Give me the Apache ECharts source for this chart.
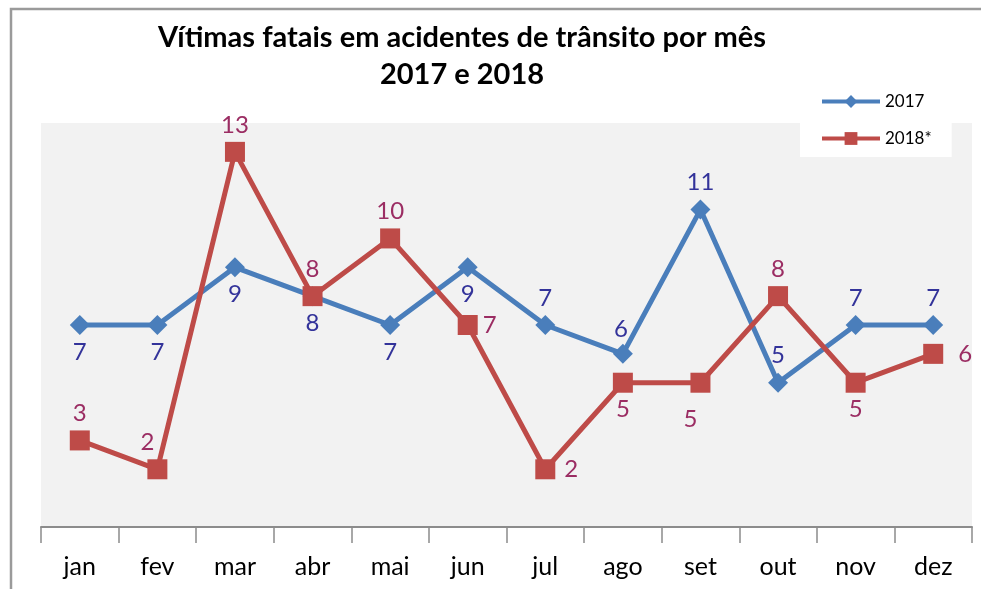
<!DOCTYPE html>
<html lang="pt">
<head>
    <meta charset="UTF-8">
    <title>Vítimas fatais</title>
    <script src="https://cdn.jsdelivr.net/npm/echarts@6/dist/echarts.min.js"></script>
    <style>
        html, body { margin: 0; padding: 0; background: #fff; }
    </style>
</head>
<body>
    <div id="myChart" style="width: 981px;height: 589px;"></div>
    <script>
        // dados
        var meses = ['jan', 'fev', 'mar', 'abr', 'mai', 'jun', 'jul', 'ago', 'set', 'out', 'nov', 'dez'];
        var v2017 = [7, 7, 9, 8, 7, 9, 7, 6, 11, 5, 7, 7];
        var v2018 = [3, 2, 13, 8, 10, 7, 2, 5, 5, 8, 5, 6];

        // onde fica cada rótulo
        var pos2017 = ['bottom', 'bottom', 'bottom', 'bottom', 'bottom', 'bottom', 'top', 'top', 'top', 'top', 'top', 'top'];
        var pos2018 = ['top', 'top', 'top', 'top', 'top', 'right', 'right', 'bottom', 'bottom', 'top', 'bottom', 'right'];
        var desloc2017 = {7: [-2, 2]};
        var desloc2018 = {1: [-10, 0], 6: [4, 0], 8: [-10, 10], 11: [10, 0]};

        function pontos(vals, pos, desloc) {
            return vals.map(function (v, i) {
                var lab = {position: pos[i]};
                if (desloc[i]) lab.offset = desloc[i];
                return {value: v, label: lab};
            });
        }

        var myChart = echarts.init(document.getElementById('myChart'));
        var option = {
            animation: false,
            textStyle: {fontFamily: 'Lato'},
            title: {
                text: 'Vítimas fatais em acidentes de trânsito por mês\n2017 e 2018',
                left: 457,
                top: 14,
                textAlign: 'center',
                textStyle: {
                    fontFamily: 'Lato',
                    fontSize: 29,
                    fontWeight: 'bold',
                    color: '#000',
                    lineHeight: 37
                }
            },
            legend: {
                orient: 'vertical',
                left: 800,
                top: 87,
                padding: [6, 20, 10, 20],
                backgroundColor: '#fff',
                itemWidth: 58,
                itemHeight: 16,
                itemGap: 20,
                lineStyle: {width: 4},
                textStyle: {fontFamily: 'Lato', fontSize: 17, color: '#000'},
                data: ['2017', '2018*']
            },
            grid: {
                left: 41,
                right: 9,
                top: 123,
                bottom: 62,
                show: true,
                backgroundColor: '#F2F2F2',
                borderWidth: 0
            },
            xAxis: {
                type: 'category',
                data: meses,
                boundaryGap: true,
                axisLine: {lineStyle: {color: '#8c8c8c', width: 2}},
                axisTick: {show: true, length: 16, lineStyle: {color: '#8c8c8c', width: 1.5}},
                axisLabel: {fontFamily: 'Lato', fontSize: 25, color: '#000', margin: 27}
            },
            yAxis: {
                type: 'value',
                min: 0,
                max: 14,
                show: false,
                splitLine: {show: false}
            },
            graphic: [{
                type: 'polyline',
                shape: {points: [[11, 589], [11, 9], [981, 9]]},
                style: {stroke: '#9a9a9a', lineWidth: 2.5, fill: null}
            }],
            series: [{
                name: '2017',
                type: 'line',
                data: pontos(v2017, pos2017, desloc2017),
                symbol: 'diamond',
                symbolSize: 20,
                lineStyle: {color: '#4A7EBB', width: 5},
                itemStyle: {color: '#4A7EBB'},
                label: {
                    show: true,
                    fontFamily: 'Lato',
                    fontSize: 24,
                    color: '#33339A',
                    distance: 5
                },
                z: 3
            }, {
                name: '2018*',
                type: 'line',
                data: pontos(v2018, pos2018, desloc2018),
                symbol: 'rect',
                symbolSize: 20,
                lineStyle: {color: '#BE4B48', width: 5},
                itemStyle: {color: '#BE4B48'},
                label: {
                    show: true,
                    fontFamily: 'Lato',
                    fontSize: 24,
                    color: '#9B2D63',
                    distance: 5
                },
                z: 4
            }]
        };

        myChart.setOption(option);
    </script>
</body>
</html>
